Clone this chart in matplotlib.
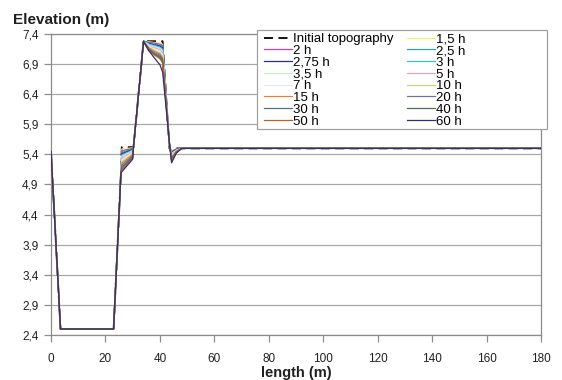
import matplotlib
matplotlib.use("Agg")
import matplotlib.pyplot as plt
from matplotlib.patches import Rectangle

plt.rcParams['font.family'] = ['Liberation Sans', 'DejaVu Sans']

# ---- data ----
series_names = ["Initial topography", "1,5 h", "2 h", "2,5 h", "2,75 h", "3 h", "3,5 h",
                "5 h", "7 h", "10 h", "15 h", "20 h", "30 h", "40 h", "50 h", "60 h"]
series_colors = ["#000000", "#F4F070", "#C040C0", "#30A0A0", "#2828A0", "#30C0E0",
                 "#C8ECC8", "#E8A0C8", "#E8E8E8", "#C8D870", "#E88030", "#7070A0",
                 "#507090", "#507050", "#C06020", "#303070"]

# common left part (length, elevation)
x_left = [0, 3.5, 23, 25.7]
z_left = [5.45, 2.5, 2.5, 5.1]

# step region (x = 26, 30)
x_step = [26, 30]
z_step = [
    [5.52, 5.52],
    [5.49, 5.51],
    [5.46, 5.50],
    [5.43, 5.49],
    [5.41, 5.48],
    [5.39, 5.47],
    [5.37, 5.46],
    [5.34, 5.44],
    [5.31, 5.43],
    [5.28, 5.41],
    [5.25, 5.40],
    [5.22, 5.38],
    [5.19, 5.36],
    [5.16, 5.35],
    [5.14, 5.34],
    [5.11, 5.32],
]

# rise to crest
x_rise = [30.3]
z_rise = [5.52]

# crest region
x_peak = [34, 35, 36, 38, 40, 41, 43.5, 44.3, 46, 48]
z_peak = [
    [7.28, 7.28, 7.28, 7.28, 7.28, 7.28, 5.50, 5.50, 5.50, 5.50],
    [7.28, 7.28, 7.27, 7.26, 7.25, 7.23, 5.52, 5.46, 5.49, 5.50],
    [7.28, 7.27, 7.26, 7.25, 7.23, 7.21, 5.53, 5.45, 5.49, 5.50],
    [7.28, 7.27, 7.25, 7.23, 7.21, 7.19, 5.54, 5.44, 5.48, 5.50],
    [7.28, 7.26, 7.24, 7.22, 7.20, 7.17, 5.54, 5.43, 5.48, 5.50],
    [7.28, 7.26, 7.23, 7.21, 7.18, 7.15, 5.55, 5.42, 5.47, 5.50],
    [7.28, 7.25, 7.22, 7.19, 7.16, 7.12, 5.55, 5.41, 5.47, 5.50],
    [7.28, 7.24, 7.21, 7.17, 7.14, 7.09, 5.56, 5.39, 5.46, 5.50],
    [7.28, 7.24, 7.20, 7.15, 7.12, 7.06, 5.56, 5.38, 5.46, 5.50],
    [7.28, 7.23, 7.18, 7.13, 7.09, 7.03, 5.57, 5.36, 5.45, 5.50],
    [7.28, 7.22, 7.17, 7.11, 7.07, 7.00, 5.57, 5.35, 5.45, 5.50],
    [7.28, 7.21, 7.15, 7.09, 7.05, 6.98, 5.58, 5.33, 5.44, 5.50],
    [7.28, 7.21, 7.14, 7.07, 7.03, 6.96, 5.58, 5.32, 5.44, 5.50],
    [7.28, 7.20, 7.13, 7.06, 7.01, 6.94, 5.59, 5.30, 5.43, 5.50],
    [7.28, 7.19, 7.12, 7.05, 6.99, 6.92, 5.59, 5.29, 5.43, 5.50],
    [7.28, 7.20, 7.12, 7.00, 6.89, 6.77, 5.60, 5.26, 5.42, 5.50],
]

# common right part
x_right = [180]
z_right = [5.5]

x_ticks = [0, 20, 40, 60, 80, 100, 120, 140, 160, 180]
y_ticks = [2.4, 2.9, 3.4, 3.9, 4.4, 4.9, 5.4, 5.9, 6.4, 6.9, 7.4]
y_tick_labels = ["2,4", "2,9", "3,4", "3,9", "4,4", "4,9", "5,4", "5,9", "6,4", "6,9", "7,4"]

# ---- figure ----
W, H = 562, 380
fig = plt.figure(figsize=(W / 100, H / 100), dpi=100)
ax = fig.add_axes([51 / W, 1 - 335 / H, 490 / W, 301 / H])

handles = []
for i, name in enumerate(series_names):
    xs = x_left + x_step + x_rise + x_peak + x_right
    zs = z_left + z_step[i] + z_rise + z_peak[i] + z_right
    if i == 0:
        h, = ax.plot(xs, zs, color=series_colors[i], lw=1.3, dashes=(5, 3), label=name, zorder=2)
    else:
        h, = ax.plot(xs, zs, color=series_colors[i], lw=0.9, label=name, zorder=2 + i)
    handles.append(h)

ax.set_xlim(0, 180)
ax.set_ylim(2.4, 7.4)
ax.set_xticks(x_ticks)
ax.set_xticklabels([str(t) for t in x_ticks])
ax.set_yticks(y_ticks)
ax.set_yticklabels(y_tick_labels)
ax.yaxis.grid(True, color="#A8A8A8", lw=0.9)
ax.set_axisbelow(True)
for s in ax.spines.values():
    s.set_color("#8C8C8C")
    s.set_linewidth(0.9)
ax.tick_params(axis='both', direction='out', length=5, width=0.9, color="#8C8C8C",
               labelsize=8.5, labelcolor="#202020")
ax.tick_params(axis='x', pad=8)
ax.tick_params(axis='y', pad=4)

fig.text(13 / W, 1 - 24 / H, "Elevation (m)", fontsize=11, fontweight='bold',
         ha='left', va='baseline', color="#202020")
fig.text(296 / W, 1 - 377 / H, "length (m)", fontsize=10.5, fontweight='bold',
         ha='center', va='baseline', color="#202020")

# legend box (wider than its content, as in the reference)
box = Rectangle((257 / W, 1 - 129 / H), 290 / W, 99 / H, transform=fig.transFigure,
                facecolor="white", edgecolor="#A0A0A0", lw=0.9, zorder=20)
fig.add_artist(box)

order = list(range(0, 16, 2)) + list(range(1, 16, 2))
leg = fig.legend([handles[k] for k in order], [series_names[k] for k in order],
                 ncol=2, loc='upper left', bbox_to_anchor=(264 / W, 1 - 33 / H),
                 fontsize=9.5, labelspacing=-0.035, handlelength=2.1, handletextpad=0.12,
                 columnspacing=1.0, borderpad=0.0, borderaxespad=0.0,
                 frameon=False)
leg.set_zorder(21)

fig.savefig("out.png", dpi=100)
